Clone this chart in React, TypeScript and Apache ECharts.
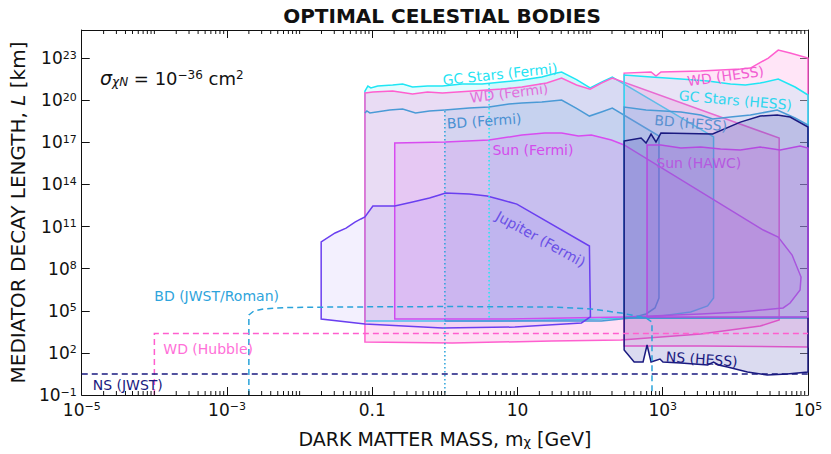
import React, { useEffect, useRef } from "react";
import * as echarts from "echarts";

const FONT = '"DejaVu Sans", "Noto Sans", sans-serif';

// ---- axis structure ----
const xMajorExps = [-5, -3, -1, 1, 3, 5];
const yMajorExps = [-1, 2, 5, 8, 11, 14, 17, 20, 23];
const xDecades = [-5, -4, -3, -2, -1, 0, 1, 2, 3, 4];
const minorMultipliers = [1, 2, 3, 4, 5, 6, 7, 8, 9];

// ---- regions: [dark matter mass (GeV), decay length (km)] ----
const gcStarsFermi = [
  [0.0793, 4.47e20], [0.087, 1.02e21], [0.0957, 7.41e20], [0.119, 1.02e21], [0.191, 1.2e21],
  [0.262, 1.41e21], [0.359, 8.71e20], [0.577, 1.02e21], [0.925, 1.02e21], [1.73, 1.41e21],
  [3.26, 1.41e21], [6.12, 1.95e21], [11.5, 2.75e21], [21.6, 4.47e21], [34.6, 8.51e21],
  [40.5, 1.02e22], [65, 2.9e21], [100, 7.41e20], [143, 1.95e21], [202, 4.47e21],
  [5010, 2.4e17], [5010, 8.13e5], [4150, 2.19e5], [2430, 8.13e4], [944, 4.27e4],
  [503, 3.63e4], [143, 2.57e4], [6.12, 1.86e4], [0.925, 1.86e4], [0.0793, 1.86e4],
];
const gcStarsFermiCore = [
  [4.06, 1.5e21], [6.12, 1.95e21], [11.5, 2.75e21], [21.6, 4.47e21], [34.6, 8.51e21],
  [40.5, 1.02e22], [65, 2.9e21], [100, 7.41e20], [143, 1.95e21], [202, 4.47e21],
  [5010, 2.4e17], [5010, 8.13e5], [4150, 2.19e5], [2430, 8.13e4], [944, 4.27e4],
  [503, 3.63e4], [143, 2.57e4], [6.12, 1.86e4], [4.06, 1.86e4],
];
const wdFermi = [
  [0.0793, 3.24e20], [0.102, 3.8e20], [0.191, 4.47e20], [0.359, 2.75e20], [0.577, 3.8e20],
  [0.925, 3.24e20], [2.38, 4.47e20], [6.12, 6.17e20], [11.5, 8.71e20], [25.2, 1.66e21],
  [40.5, 3.8e21], [65, 1.2e21], [100, 6.17e20], [143, 1.66e21], [202, 3.8e21],
  [40100, 2.0e17], [40100, 2.19e4], [22000, 8.13e3], [3334, 2.2e3], [268, 8.3e2],
  [29.6, 7.08e2], [1.27, 5.01e2], [0.0793, 5.89e2],
];
const bdFermiLow = [
  [0.0793, 1.23e19], [0.0843, 1.7e19], [0.0927, 1.23e19], [0.174, 2.0e19], [0.262, 2.34e19],
  [0.395, 1.23e19], [0.614, 1.7e19], [1.0, 2.0e19],
];
const bdFermi = [
  [1.0, 2.0e19], [2.16, 2.75e19], [4.06, 3.24e19], [7.63, 5.37e19], [11.5, 6.31e19],
  [21.6, 7.41e19], [40.5, 1.02e20], [65, 2.6e19], [97.8, 7.41e18], [143, 1.45e19],
  [202, 2.75e19], [887, 2.82e17], [887, 8.13e5], [782, 1.58e5], [589, 5.89e4],
  [367, 3.02e4], [143, 1.86e4], [1.0, 1.86e4],
];
const sunFermi = [
  [0.204, 2.57e4], [0.204, 8.91e16], [1.02, 1.05e17], [4.06, 1.45e17], [11.5, 3.31e17],
  [23.7, 4.57e17], [40.5, 4.57e17], [69, 2.82e17], [104, 3.31e17], [196, 1.45e17],
  [294, 6.46e16], [24200, 5.62e10], [38900, 1.78e10], [60400, 9.33e8], [80200, 2.51e7],
  [77800, 3.02e6], [56700, 3.55e5], [45500, 1.58e5], [11700, 8.13e4], [3334, 5.89e4],
  [690, 4.27e4], [294, 3.63e4], [6.12, 2.57e4],
];
const jupiterFermi = [
  [0.0198, 2.57e4], [0.0198, 7.94e9], [0.0308, 3.47e10], [0.0436, 7.76e10], [0.0578, 2.09e11],
  [0.0698, 3.47e11], [0.0793, 4.79e11], [0.102, 2.88e12], [0.204, 2.88e12], [0.359, 5.62e12],
  [0.614, 1.07e13], [0.841, 1.78e13], [1.02, 2.45e13], [2.16, 2.09e13], [3.81, 1.48e13],
  [6.12, 7.76e12], [9.8, 3.98e12], [97.8, 4.07e9], [101, 3.63e4], [76, 1.35e4],
  [9.2, 6.92e3], [0.925, 5.89e3], [0.0793, 1.15e4],
];
const wdHess = [
  [294, 3.09e2], [294, 8.51e21], [690, 1.02e22], [807, 5.25e21], [944, 1.02e22],
  [3334, 1.2e22], [11700, 1.66e22], [16100, 1.95e22], [28400, 1.0e23], [38900, 3.7e23],
  [56700, 2.29e23], [100000, 1.0e23], [100000, 2.63e2], [3334, 3.09e2],
];
const gcStarsHess = [
  [294, 3.02e4], [294, 6.17e21], [690, 4.47e21], [1775, 3.24e21], [4150, 2.29e21],
  [8570, 1.41e21], [13740, 1.2e21], [22000, 1.66e21], [38900, 3.24e21], [66400, 8.71e20],
  [100000, 2.34e20], [100000, 3.63e4], [3334, 3.02e4],
];
const bdHess = [
  [294, 3.02e4], [294, 3.24e19], [589, 2.0e19], [1775, 1.45e19], [3334, 8.71e18],
  [4860, 4.57e18], [8570, 6.31e18], [16100, 8.71e18], [37700, 2.0e19], [66400, 5.37e18],
  [100000, 1.7e18], [100000, 3.02e4],
];
const nsHess = [
  [294, 1.23e17], [503, 2.0e17], [589, 8.91e16], [690, 3.89e17], [807, 1.05e17],
  [944, 4.57e17], [4860, 3.89e17], [11700, 2.75e18], [22000, 7.41e18], [37700, 8.71e18],
  [56700, 6.31e18], [100000, 1.23e18], [100000, 4.37], [51600, 3.16], [27500, 2.63],
  [14650, 4.37], [7800, 9.77], [5870, 13.8], [5010, 22.4], [4150, 13.8], [1775, 19.1],
  [1006, 22.4], [916, 36.3], [690, 22.4], [608, 363], [536, 22.4], [404, 22.4], [294, 162],
];
const sunHawc = [
  [608, 3.63e4], [608, 6.46e16], [944, 6.46e16], [1775, 3.89e16], [3334, 4.57e16],
  [6250, 3.31e16], [11700, 2.82e16], [22000, 4.57e16], [41400, 2.82e16], [77800, 5.5e16],
  [100000, 3.89e16], [100000, 3.63e4],
];
// projected sensitivities (dashed)
const bdJwstRoman = [
  [0.002, 0.1], [0.002, 5.01e4], [0.00233, 9.5e4], [0.00318, 1.35e5], [0.0066, 1.7e5],
  [0.0318, 1.86e5], [1.27, 2.0e5], [29.6, 1.86e5], [104, 1.35e5], [268, 6.92e4],
  [589, 3.02e4], [711, 1.58e4], [711, 0.1],
];
const wdHubble = [[1e-4, 0.1], [1e-4, 2.4e3], [1e5, 2.4e3]];
const nsJwst = [[1e-5, 3.16], [1e5, 3.16]];
// dotted edges
const bdFermiDotted = [[1.0, 1.7e19], [1.0, 0.1]];
const gcFermiDotted = [[4.06, 1.41e21], [4.06, 2.2e4]];

// label anchors [mass, length]
const labelTexts = [
  "GC Stars (Fermi)", "WD (Fermi)", "BD (Fermi)", "Sun (Fermi)", "Jupiter (Fermi)",
  "WD (HESS)", "GC Stars (HESS)", "BD (HESS)", "Sun (HAWC)", "NS (HESS)",
  "BD (JWST/Roman)", "WD (Hubble)", "NS (JWST)",
];
const labelAnchors = [
  [5.74, 7.2e21], [7.63, 3.24e20], [3.47, 3.3e18], [16.3, 2.82e16], [20.9, 1.3e10],
  [7330, 5.25e21], [10000, 1.0e20], [2430, 2.3e18], [3130, 3.3e15], [3440, 36.3],
  [7.2e-4, 1.1e6], [5.5e-4, 190], [4.3e-5, 0.515],
];
const labelColors = [
  "#1fe3f2", "#e070dc", "#4a90d2", "#d44cec", "#6a50e6",
  "#f25ed2", "#2fd6ee", "#5a90d0", "#b658e0", "#1a1a80",
  "#2ea4dc", "#ff70d8", "#1a1a80",
];
const labelRotations = [6, 7, 4, 0, -29, 8, -5, -5, 0, -4, 0, 0, 0];

const C = {
  cyan: "#1fe6f4",
  pink: "#ff5fcf",
  blue: "#4a9ad6",
  magenta: "#d84cf0",
  violet: "#6a3ff0",
  navy: "#1a1a80",
  nsFill: "#2c2ca4",
  hawc: "#b54ae0",
  ltblue: "#2aa3da",
};

function rgba(hex: string, a: number) {
  const n = parseInt(hex.slice(1), 16);
  return `rgba(${(n >> 16) & 255},${(n >> 8) & 255},${n & 255},${a})`;
}

// outline: "closed" (stroke full polygon), "open" (stroke without closing edge), "none"
function regionSeries(
  pts: number[][], stroke: string, alpha: number, outline = "closed", fillColor?: string, lw = 1.5
) {
  return {
    type: "custom",
    xAxisIndex: 0,
    yAxisIndex: 0,
    clip: true,
    silent: true,
    data: pts,
    encode: { x: 0, y: 1 },
    renderItem: (params: any, api: any) => {
      if (params.dataIndex !== 0) return null;
      const points = pts.map((p) => api.coord(p));
      const children: any[] = [
        {
          type: "polygon",
          shape: { points },
          style: {
            fill: rgba(fillColor || stroke, alpha),
            stroke: outline === "closed" ? stroke : "none",
            lineWidth: lw,
          },
        },
      ];
      if (outline === "open") {
        children.push({ type: "polyline", shape: { points }, style: { fill: "none", stroke, lineWidth: lw } });
      }
      return { type: "group", children };
    },
  };
}

function lineSeries(pts: number[][], stroke: string, dash: number[] | null, lw = 1.5) {
  return {
    type: "custom",
    xAxisIndex: 0,
    yAxisIndex: 0,
    clip: true,
    silent: true,
    data: pts,
    encode: { x: 0, y: 1 },
    renderItem: (params: any, api: any) => {
      if (params.dataIndex !== 0) return null;
      const points = pts.map((p) => api.coord(p));
      return {
        type: "polyline",
        shape: { points },
        style: { fill: "none", stroke, lineWidth: lw, lineDash: dash || undefined },
      };
    },
  };
}

const sup = (n: number) => String(n).replace("-", "\u2212");

export default function App() {
  const ref = useRef<HTMLDivElement>(null);
  useEffect(() => {
    if (!ref.current) return;
    const chart = echarts.init(ref.current, null, { renderer: "svg" });

    const minorTicks: number[][] = [];
    xDecades.forEach((d) => {
      minorMultipliers.forEach((k) => {
        if (k === 1 && xMajorExps.includes(d)) return;
        minorTicks.push([k * Math.pow(10, d), 1]);
      });
    });

    const tickLabelRich = {
      b: { fontSize: 17, fontFamily: FONT, color: "#111" },
      s: { fontSize: 11, fontFamily: FONT, color: "#111", verticalAlign: "top" },
    };

    const option: any = {
      animation: false,
      backgroundColor: "#fff",
      grid: { left: 77, right: 23, top: 30, bottom: 59 },
      xAxis: [
        { type: "log", min: 1e-5, max: 1e5, show: false },
        {
          type: "value",
          min: 0,
          max: 10,
          interval: 2,
          position: "bottom",
          axisLine: { show: true, lineStyle: { color: "#111", width: 1 } },
          axisTick: { show: true, inside: true, length: 8, lineStyle: { color: "#111" } },
          splitLine: { show: false },
          axisLabel: {
            margin: 6,
            formatter: (v: number) => {
              const e = xMajorExps[Math.round(v / 2)];
              if (e === -1) return "{b|0.1}";
              if (e === 1) return "{b|10}";
              return `{b|10}{s|${sup(e)}}`;
            },
            rich: tickLabelRich,
          },
          name: "{n|DARK MATTER MASS, m}{u|\u03c7}{n| [GeV]}",
          nameLocation: "middle",
          nameGap: 34,
          nameTextStyle: {
            rich: {
              n: { fontSize: 19, fontFamily: FONT, color: "#111" },
              u: { fontSize: 13, fontFamily: FONT, color: "#111", verticalAlign: "bottom" },
            },
          },
        },
        {
          type: "value",
          min: 0,
          max: 10,
          interval: 2,
          position: "top",
          axisLine: { show: true, lineStyle: { color: "#111", width: 1 } },
          axisTick: { show: true, inside: true, length: 8, lineStyle: { color: "#111" } },
          axisLabel: { show: false },
          splitLine: { show: false },
        },
      ],
      yAxis: [
        { type: "log", min: 0.1, max: 1e25, show: false },
        {
          type: "value",
          min: 0,
          max: 26,
          interval: 3,
          position: "left",
          axisLine: { show: true, lineStyle: { color: "#111", width: 1 } },
          axisTick: { show: true, inside: true, length: 8, lineStyle: { color: "#111" } },
          splitLine: { show: false },
          axisLabel: {
            margin: 5,
            showMaxLabel: false,
            formatter: (v: number) => {
              const e = yMajorExps[Math.round(v / 3)];
              return e === undefined ? "" : `{b|10}{s|${sup(e)}}`;
            },
            rich: tickLabelRich,
          },
          name: "{n|MEDIATOR DECAY LENGTH, }{i|L}{n| [km]}",
          nameLocation: "middle",
          nameGap: 50,
          nameTextStyle: {
            rich: {
              n: { fontSize: 20, fontFamily: FONT, color: "#111" },
              i: { fontSize: 20, fontFamily: FONT, color: "#111", fontStyle: "italic" },
            },
          },
        },
        {
          type: "value",
          min: 0,
          max: 26,
          interval: 3,
          position: "right",
          axisLine: { show: true, lineStyle: { color: "#111", width: 1 } },
          axisTick: { show: true, inside: true, length: 8, lineStyle: { color: "#555" } },
          axisLabel: { show: false },
          splitLine: { show: false },
        },
      ],
      graphic: [
        {
          type: "text",
          x: 442,
          y: 16,
          style: {
            text: "OPTIMAL CELESTIAL BODIES",
            fontSize: 20,
            fontWeight: "bold",
            fontFamily: FONT,
            fill: "#111",
            align: "center",
            verticalAlign: "middle",
          },
        },
        {
          type: "text",
          x: 100,
          y: 78,
          style: {
            text: "{g|\u03c3}{d|\u03c7N}{n| = 10}{p|\u221236}{n| cm}{p|2}",
            verticalAlign: "middle",
            rich: {
              g: { fontSize: 19, fontFamily: FONT, fontStyle: "italic", fill: "#111" },
              d: { fontSize: 12, fontFamily: FONT, fontStyle: "italic", fill: "#111", verticalAlign: "bottom" },
              n: { fontSize: 18, fontFamily: FONT, fill: "#111" },
              p: { fontSize: 12, fontFamily: FONT, fill: "#111", verticalAlign: "top" },
            },
          },
        },
      ],
      series: [
        regionSeries(gcStarsFermi, C.cyan, 0.12),
        regionSeries(gcStarsFermiCore, C.cyan, 0.1, "none"),
        regionSeries(wdFermi, C.pink, 0.2),
        lineSeries(bdFermiLow, C.blue, null),
        regionSeries(bdFermi, C.blue, 0.12, "open"),
        regionSeries(sunFermi, C.magenta, 0.14),
        regionSeries(jupiterFermi, C.violet, 0.08),
        regionSeries(wdHess, C.pink, 0.16),
        regionSeries(gcStarsHess, C.cyan, 0.1),
        regionSeries(bdHess, C.blue, 0.08),
        regionSeries(nsHess, C.navy, 0.17, "closed", C.nsFill),
        regionSeries(sunHawc, C.hawc, 0.15),
        lineSeries(bdJwstRoman, C.ltblue, [6, 4]),
        lineSeries(wdHubble, C.pink, [6, 4]),
        lineSeries(nsJwst, C.navy, [6, 4]),
        lineSeries(bdFermiDotted, C.ltblue, [1.5, 2.5]),
        lineSeries(gcFermiDotted, C.cyan, [1.5, 2.5]),
        {
          type: "custom",
          xAxisIndex: 0,
          yAxisIndex: 0,
          clip: false,
          silent: true,
          data: minorTicks,
          encode: { x: 0, y: 1 },
          renderItem: (params: any, api: any) => {
            const m = api.value(0);
            const b = api.coord([m, 0.1]);
            const t = api.coord([m, 1e25]);
            return {
              type: "group",
              children: [
                { type: "line", shape: { x1: b[0], y1: b[1], x2: b[0], y2: b[1] - 4 }, style: { stroke: "#111", lineWidth: 1 } },
                { type: "line", shape: { x1: t[0], y1: t[1], x2: t[0], y2: t[1] + 4 }, style: { stroke: "#111", lineWidth: 1 } },
              ],
            };
          },
        },
        {
          type: "custom",
          xAxisIndex: 0,
          yAxisIndex: 0,
          clip: false,
          silent: true,
          data: labelAnchors,
          encode: { x: 0, y: 1 },
          renderItem: (params: any, api: any) => {
            const i = params.dataIndex;
            const p = api.coord(labelAnchors[i]);
            return {
              type: "text",
              x: p[0],
              y: p[1],
              rotation: (labelRotations[i] * Math.PI) / 180,
              style: {
                text: labelTexts[i],
                fill: labelColors[i],
                fontSize: 14,
                fontFamily: FONT,
                align: "center",
                verticalAlign: "middle",
              },
            };
          },
        },
      ],
    };
    chart.setOption(option);
    return () => chart.dispose();
  }, []);
  return (
    <div
      ref={ref}
      style={{ position: "absolute", left: 0, top: 0, width: 831, height: 454, background: "#fff" }}
    />
  );
}
